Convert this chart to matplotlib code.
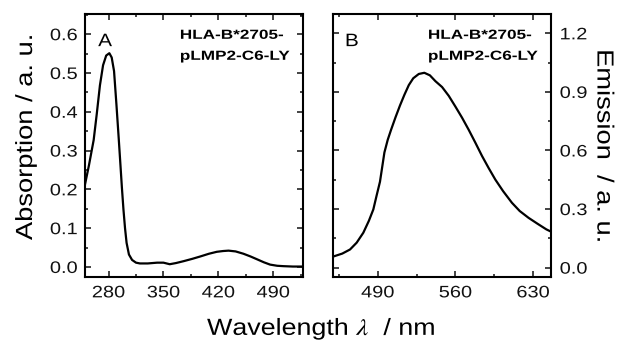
import matplotlib
matplotlib.use("Agg")
import matplotlib.pyplot as plt
from matplotlib.ticker import MultipleLocator, FormatStrFormatter
from matplotlib.patheffects import AbstractPathEffect
from matplotlib.transforms import Affine2D

plt.rcParams['font.family'] = ['Liberation Sans', 'DejaVu Sans']
plt.rcParams['mathtext.fontset'] = 'stix'

# absorption spectrum (panel A)
abs_nm = [250, 255, 261, 265, 269, 273, 277, 281, 284, 287, 290, 293, 295, 297, 299,
          301, 303, 306, 310, 315, 320, 330, 342, 350, 358, 366, 376, 387, 397,
          408, 418, 426, 433, 442, 452, 461, 469, 478, 486, 495, 503, 515, 528]
abs_val = [0.213, 0.262, 0.327, 0.395, 0.468, 0.520, 0.545, 0.551, 0.540, 0.505, 0.420,
           0.330, 0.268, 0.205, 0.148, 0.100, 0.062, 0.032, 0.018, 0.011, 0.009, 0.009,
           0.011, 0.011, 0.007, 0.010, 0.015, 0.021, 0.027, 0.034, 0.039, 0.041, 0.042,
           0.040, 0.034, 0.027, 0.020, 0.012, 0.006, 0.003, 0.002, 0.001, 0.001]

# emission spectrum (panel B)
em_nm = [451, 458, 465, 471, 477, 482, 486, 489, 492, 496, 499, 502, 506, 510, 514,
         518, 522, 527, 532, 537, 542, 548, 554, 560, 566, 572, 578, 584, 590, 596,
         603, 611, 618, 626, 634, 642, 646]
em_val = [0.059, 0.072, 0.093, 0.128, 0.179, 0.240, 0.298, 0.370, 0.440, 0.590, 0.655,
          0.706, 0.770, 0.830, 0.885, 0.935, 0.970, 0.992, 0.998, 0.985, 0.955, 0.925,
          0.880, 0.825, 0.768, 0.706, 0.640, 0.572, 0.510, 0.451, 0.392, 0.332, 0.290,
          0.255, 0.225, 0.196, 0.185]

sample = "HLA-B*2705-\npLMP2-C6-LY"


class Stretch(AbstractPathEffect):
    # widen glyphs along the reading direction (the original font runs wider than Arial)
    def __init__(self, sx, anchor='center'):
        super().__init__()
        self.sx = sx
        self.anchor = anchor

    def draw_path(self, renderer, gc, tpath, affine, rgbFace=None):
        ext = tpath.get_extents()
        cx = {'left': ext.x0, 'right': ext.x1}.get(self.anchor, 0.5 * (ext.x0 + ext.x1))
        pre = Affine2D().translate(-cx, 0).scale(self.sx, 1).translate(cx, 0)
        renderer.draw_path(gc, tpath, pre + affine, rgbFace)


fig = plt.figure(figsize=(6.22, 3.42), dpi=100)
axA = fig.add_axes([0.1367, 0.190, 0.3505, 0.769])
axB = fig.add_axes([0.536, 0.190, 0.3495, 0.769])


def style(ax, ypad):
    for s in ax.spines.values():
        s.set_linewidth(1.5)
    ax.tick_params(which='both', direction='in', top=True, right=True, left=True,
                   bottom=True, width=1.1, labelsize=12, colors='#111111')
    ax.tick_params(axis='x', pad=6)
    ax.tick_params(axis='y', pad=ypad)
    ax.tick_params(which='major', length=4)
    ax.tick_params(which='minor', length=2.3)
    ax.xaxis.set_major_locator(MultipleLocator(70))
    ax.xaxis.set_minor_locator(MultipleLocator(35))
    ax.yaxis.set_major_formatter(FormatStrFormatter('%.1f'))


axA.plot(abs_nm, abs_val, color='black', lw=1.6)
axA.set_xlim(250, 528)
axA.set_ylim(-0.026, 0.652)
axA.yaxis.set_major_locator(MultipleLocator(0.1))
axA.yaxis.set_minor_locator(MultipleLocator(0.05))
style(axA, 5.5)
axA.text(0.092, 0.895, "A", transform=axA.transAxes, fontsize=13, ha='center', va='center',
         path_effects=[Stretch(1.15)])
axA.text(0.436, 0.94, sample, transform=axA.transAxes, fontsize=9.5, fontweight='bold',
         ha='left', va='top', linespacing=2.0, path_effects=[Stretch(1.3, 'left')])

axB.plot(em_nm, em_val, color='black', lw=1.6)
axB.set_xlim(450, 646)
axB.set_ylim(-0.048, 1.299)
axB.yaxis.set_major_locator(MultipleLocator(0.3))
axB.yaxis.set_minor_locator(MultipleLocator(0.15))
style(axB, 6.5)
axB.tick_params(axis='y', labelleft=False, labelright=True)
axB.text(0.085, 0.895, "B", transform=axB.transAxes, fontsize=13, ha='center', va='center',
         path_effects=[Stretch(1.15)])
axB.text(0.436, 0.94, sample, transform=axB.transAxes, fontsize=9.5, fontweight='bold',
         ha='left', va='top', linespacing=2.0, path_effects=[Stretch(1.3, 'left')])

for ax in (axA, axB):
    for t in ax.xaxis.get_major_ticks():
        t.label1.set_path_effects([Stretch(1.2)])
    for t in ax.yaxis.get_major_ticks():
        t.label1.set_path_effects([Stretch(1.2, 'right')])
        t.label2.set_path_effects([Stretch(1.2, 'left')])

fig.text(0.041, 0.60, "Absorption / a. u.", fontsize=16.8, rotation=90,
         ha='center', va='center', path_effects=[Stretch(1.17)])
fig.text(0.971, 0.572, "Emission  / a. u.", fontsize=16.8, rotation=270,
         ha='center', va='center', path_effects=[Stretch(1.17)])
fig.text(0.517, 0.0205, r"Wavelength $\lambda$  / nm", fontsize=16.8, ha='center',
         va='baseline', path_effects=[Stretch(1.15)])

fig.savefig("out.png", dpi=100)
